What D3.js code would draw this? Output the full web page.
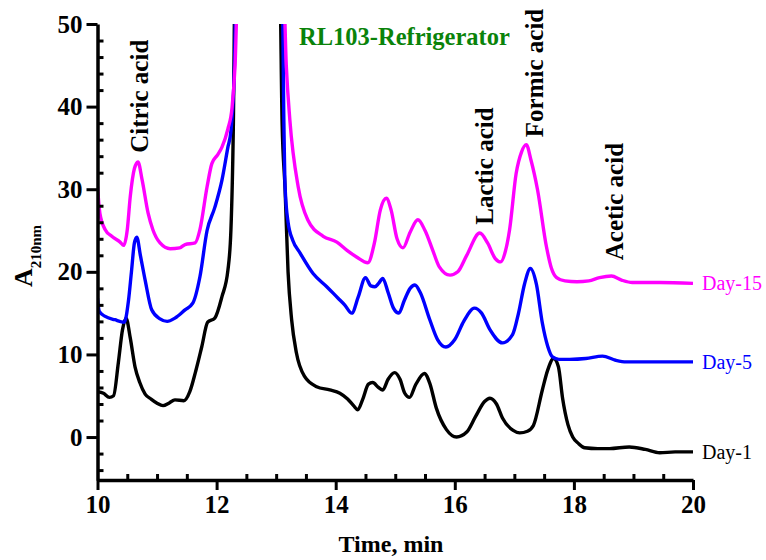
<!DOCTYPE html>
<html>
<script src="https://d3js.org/d3.v7.min.js"></script>
<style>
	body {margin: 0; background: white; }
	svg {display: block; }
	text {font-family: "Liberation Serif", "Times New Roman", serif; }
</style>
<body>
<svg id="chart" width="766" height="560"></svg>
<script>
// chromatogram traces, [time (min), absorbance]
const day1 = [
	[10.0,5.5],[10.1,5.3],[10.2,4.8],[10.27,5.0],[10.35,9],[10.42,13],[10.48,14.4],[10.55,12],[10.63,8.5],
	[10.71,6.6],[10.8,5.2],[10.9,4.6],[11.0,4.1],[11.1,3.8],[11.2,4.1],[11.3,4.5],[11.45,4.4],[11.55,5.5],
	[11.65,8],[11.75,10.9],[11.85,13.9],[11.97,14.4],[12.09,17],[12.19,20.2],[12.24,25],[12.28,37],[12.31,55],
	[13.06,55],[13.1,38],[13.15,30],[13.2,20],[13.26,14.2],[13.34,10.2],[13.48,7.3],[13.68,6.1],[13.9,5.7],
	[14.07,5.3],[14.2,4.6],[14.3,3.8],[14.37,3.3],[14.45,4.5],[14.55,6.4],[14.62,6.6],[14.72,6.0],[14.79,5.7],
	[14.88,7.0],[14.99,7.8],[15.08,7.0],[15.16,5.3],[15.24,4.8],[15.34,6.3],[15.49,7.7],[15.58,6.5],[15.69,3.5],
	[15.86,0.9],[16.03,0.0],[16.2,0.6],[16.35,2.5],[16.5,4.3],[16.59,4.7],[16.7,4.0],[16.8,2.3],[16.98,0.8],
	[17.09,0.5],[17.22,0.7],[17.32,1.4],[17.47,5.7],[17.56,8.1],[17.66,9.5],[17.74,8.5],[17.81,4.7],[17.9,1.5],
	[17.98,0.0],[18.08,-0.8],[18.18,-1.3],[18.4,-1.4],[18.6,-1.4],[18.93,-1.2],[19.2,-1.5],[19.44,-1.9],
	[19.7,-1.8],[20.0,-1.8]
];
const day5 = [
	[10.0,16.8],[10.03,15.2],[10.13,14.6],[10.29,14.2],[10.45,13.9],[10.52,16.5],[10.57,20],[10.62,23.5],
	[10.66,24.2],[10.72,22],[10.8,19.0],[10.91,15.4],[11.05,14.3],[11.17,14.0],[11.3,14.4],[11.47,15.4],
	[11.6,16.2],[11.72,19.4],[11.84,25],[11.97,27.8],[12.09,31.1],[12.19,35.1],[12.24,37],[12.3,45],[12.33,55],
	[13.1,55],[13.13,38],[13.15,30.3],[13.2,26],[13.28,23.8],[13.4,22.3],[13.62,19.8],[13.85,18.2],[14.04,16.8],
	[14.15,16.0],[14.27,15.0],[14.38,17],[14.5,19.3],[14.59,18.3],[14.66,18.2],[14.72,18.6],[14.79,19.2],
	[14.88,17.5],[14.97,15.6],[15.06,15.0],[15.15,16.5],[15.25,18.0],[15.33,18.4],[15.42,17.5],[15.58,14.2],
	[15.71,11.8],[15.85,10.9],[16.0,11.8],[16.15,14.0],[16.33,15.6],[16.45,15.0],[16.59,13.0],[16.8,11.4],
	[16.97,12.4],[17.07,15],[17.17,18.5],[17.27,20.4],[17.37,18.5],[17.47,13.8],[17.56,11.0],[17.64,9.7],
	[17.75,9.4],[17.93,9.4],[18.2,9.5],[18.48,9.8],[18.7,9.3],[18.88,9.1],[19.44,9.1],[20.0,9.1]
];
const day15 = [
	[10.0,30.3],[10.04,27.1],[10.13,25.1],[10.24,24.3],[10.38,23.6],[10.44,23.2],[10.5,25.1],[10.55,29.1],
	[10.62,32.5],[10.68,33.3],[10.75,31.1],[10.85,27.1],[10.93,25.1],[11.05,23.5],[11.22,22.8],[11.38,22.9],
	[11.47,23.3],[11.64,23.5],[11.72,25.1],[11.84,30.3],[11.92,33.1],[12.02,34.2],[12.09,35.1],[12.19,37.3],
	[12.26,39.9],[12.31,45],[12.36,55],
	[13.12,55],[13.17,45],[13.23,38.4],[13.37,30.3],[13.53,26.3],[13.79,24.3],[14.02,23.6],[14.19,22.6],
	[14.35,21.8],[14.54,21.1],[14.65,23.5],[14.75,27.5],[14.85,28.9],[14.93,27.5],[15.03,24],[15.13,22.9],
	[15.25,24.8],[15.38,26.3],[15.5,25],[15.63,22.6],[15.74,20.6],[15.92,19.6],[16.05,20.0],[16.2,22],
	[16.42,24.7],[16.55,23.5],[16.68,21.6],[16.77,21.2],[16.85,22.5],[16.92,25.1],[17.03,31.9],[17.12,34.5],
	[17.2,35.4],[17.28,33.5],[17.39,29.9],[17.54,23.0],[17.62,20.5],[17.71,19.3],[17.85,18.9],[18.05,18.8],
	[18.25,18.9],[18.43,19.3],[18.63,19.5],[18.8,19.0],[18.98,18.7],[19.44,18.7],[20.0,18.6]
];

const seriesNames = ["Day-1", "Day-5", "Day-15"];
const seriesColors = ["#000000", "#0000ff", "#ff00ff"];
const seriesData = [day1, day5, day15];

const peakNames = ["Citric acid", "Lactic acid", "Formic acid", "Acetic acid"];
const peakTimes = [10.85, 16.64, 17.48, 18.82];
const peakLevels = [34.4, 25.7, 36.3, 21.4];

const xMajor = [10, 12, 14, 16, 18, 20];
const yMajor = [0, 10, 20, 30, 40, 50];

const svg = d3.select("#chart"),
	margin = {top: 24, right: 73, bottom: 80, left: 97.5},
	width = +svg.attr("width"),
	height = +svg.attr("height");

const x = d3.scaleLinear()
	.domain([10, 20])
	.range([margin.left, width - margin.right]);

const y = d3.scaleLinear()
	.domain([-5.2, 50])
	.range([height - margin.bottom, margin.top]);

svg.append("clipPath")
	.attr("id", "plotClip")
	.append("rect")
	.attr("x", x(10))
	.attr("y", y(50))
	.attr("width", x(20) - x(10) + 2)
	.attr("height", y(-5.2) - y(50));

const line = d3.line()
	.curve(d3.curveMonotoneX)
	.x(d => x(d[0]))
	.y(d => y(d[1]));

seriesData.forEach((s, i) => {
	svg.append("path")
		.datum(s)
		.attr("clip-path", "url(#plotClip)")
		.attr("fill", "none")
		.attr("stroke", seriesColors[i])
		.attr("stroke-width", 3.4)
		.attr("stroke-linejoin", "round")
		.attr("d", line);

	const last = s[s.length - 1];
	svg.append("text")
		.attr("x", x(20) + 9)
		.attr("y", y(last[1]))
		.attr("dy", "0.35em")
		.attr("font-size", "20px")
		.attr("fill", seriesColors[i])
		.text(seriesNames[i]);
});

// axes: major ticks outside, minor ticks inside
const xMinor = d3.range(10.5, 20, 0.5).filter(v => !xMajor.includes(v));
const yMinor = d3.range(-4, 50, 2).filter(v => !yMajor.includes(v));

function styleAxis(g) {
	g.select(".domain").attr("stroke-width", 3.5);
	g.selectAll(".tick line").attr("stroke-width", 3);
	g.selectAll(".tick text")
		.attr("font-family", "Liberation Serif, serif")
		.attr("font-weight", "bold")
		.attr("font-size", "25px")
		.attr("fill", "#000");
}

svg.append("g")
	.attr("transform", `translate(0,${y(-5.2)})`)
	.call(d3.axisTop(x).tickValues(xMinor).tickSize(6).tickFormat(""))
	.call(g => g.select(".domain").remove())
	.call(styleAxis);

svg.append("g")
	.attr("transform", `translate(${x(10)},0)`)
	.call(d3.axisRight(y).tickValues(yMinor).tickSize(6).tickFormat(""))
	.call(g => g.select(".domain").remove())
	.call(styleAxis);

svg.append("g")
	.attr("transform", `translate(0,${y(-5.2)})`)
	.call(d3.axisBottom(x).tickValues(xMajor).tickSize(10).tickSizeOuter(0).tickPadding(5).tickFormat(d3.format("d")))
	.call(styleAxis);

svg.append("g")
	.attr("transform", `translate(${x(10)},0)`)
	.call(d3.axisLeft(y).tickValues(yMajor).tickSize(11).tickSizeOuter(0).tickPadding(4))
	.call(styleAxis);

// axis titles
svg.append("text")
	.attr("x", 391)
	.attr("y", 552)
	.attr("text-anchor", "middle")
	.attr("font-weight", "bold")
	.attr("font-size", "24px")
	.text("Time, min");

const yTitle = svg.append("text")
	.attr("transform", "translate(32,256) rotate(-90)")
	.attr("text-anchor", "middle")
	.attr("font-weight", "bold");
yTitle.append("tspan").attr("font-size", "26px").text("A");
yTitle.append("tspan").attr("font-size", "15px").attr("dy", 9).text("210nm");

svg.append("text")
	.attr("x", 299)
	.attr("y", 45)
	.attr("font-weight", "bold")
	.attr("font-size", "24.5px")
	.attr("fill", "#0a830a")
	.text("RL103-Refrigerator");

// peak labels, rotated
peakNames.forEach((name, i) => {
	svg.append("text")
		.attr("transform", `translate(${x(peakTimes[i])},${y(peakLevels[i])}) rotate(-90)`)
		.attr("font-weight", "bold")
		.attr("font-size", "25px")
		.text(name);
});
</script>
</body>
</html>
